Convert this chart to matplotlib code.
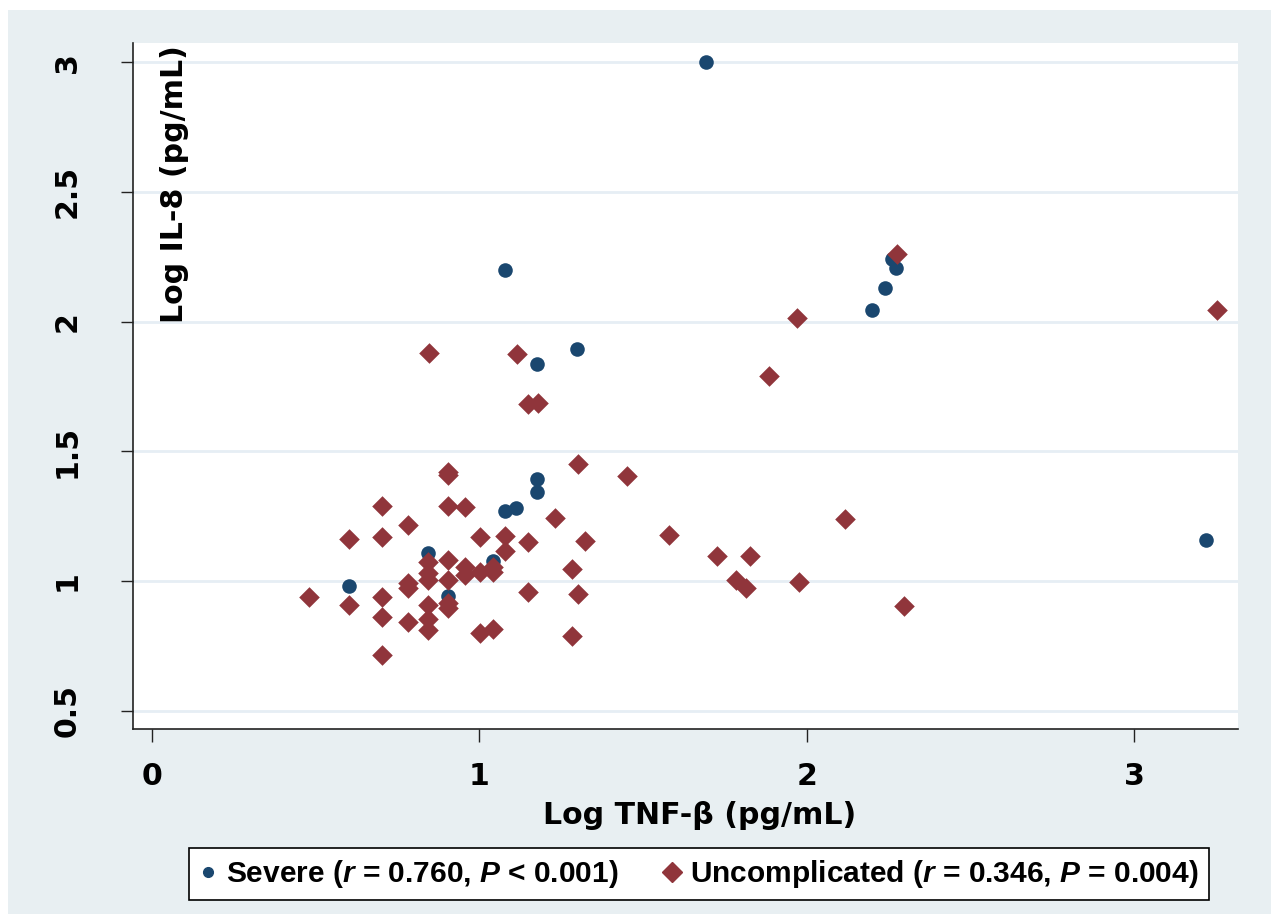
import matplotlib
matplotlib.use('Agg')
import matplotlib.pyplot as plt
from matplotlib.lines import Line2D
from matplotlib.patches import Rectangle

# Log TNF-beta vs Log IL-8
severe_x = [1.693, 1.080, 1.300, 1.177, 2.201, 2.240, 2.261, 2.273, 3.220,
            1.177, 1.177, 1.080, 1.112, 0.844, 1.043, 0.603, 0.905]
severe_y = [3.000, 2.199, 1.893, 1.837, 2.045, 2.129, 2.242, 2.206, 1.158,
            1.392, 1.344, 1.271, 1.280, 1.108, 1.076, 0.981, 0.941]

uncomp_x = [0.481, 0.603, 0.603, 0.702, 0.702, 0.702, 0.702, 0.702, 0.781, 0.781,
            0.781, 0.781, 0.845, 0.844, 0.844, 0.844, 0.844, 0.844, 0.844, 0.905,
            0.905, 0.905, 0.905, 0.905, 0.905, 0.905, 0.956, 0.956, 0.956, 1.002,
            1.002, 1.002, 1.043, 1.043, 1.043, 1.080, 1.080, 1.115, 1.148, 1.178,
            1.148, 1.148, 1.232, 1.282, 1.282, 1.302, 1.303, 1.324, 1.450, 1.581,
            1.725, 1.784, 1.814, 1.827, 1.886, 1.971, 1.977, 2.116, 2.275, 2.298,
            3.254]
uncomp_y = [0.937, 1.162, 0.907, 1.289, 1.171, 0.937, 0.860, 0.715, 1.216, 0.991,
            0.972, 0.843, 1.880, 1.074, 1.030, 1.004, 0.907, 0.852, 0.811, 1.419,
            1.410, 1.289, 1.081, 1.004, 0.914, 0.895, 1.286, 1.055, 1.023, 1.168,
            1.036, 0.798, 1.055, 1.036, 0.814, 1.172, 1.115, 1.875, 1.682, 1.687,
            1.152, 0.959, 1.244, 1.045, 0.789, 1.451, 0.950, 1.155, 1.406, 1.176,
            1.098, 1.004, 0.972, 1.098, 1.790, 2.013, 0.996, 1.240, 2.261, 0.904,
            2.045]

xticks = [0, 1, 2, 3]
yticks = [0.5, 1, 1.5, 2, 2.5, 3]
ytick_labels = ['0.5', '1', '1.5', '2', '2.5', '3']

navy = '#1a476f'
maroon = '#90353b'
panel = '#e8eff2'

plt.rcParams['font.family'] = ['DejaVu Sans']
plt.rcParams['mathtext.fontset'] = 'custom'
plt.rcParams['mathtext.it'] = 'Liberation Sans:italic:bold'
plt.rcParams['mathtext.rm'] = 'Liberation Sans:bold'

fig = plt.figure(figsize=(12.77, 9.22), dpi=100)
fig.patch.set_facecolor('white')
fig.patches.append(Rectangle((8 / 1277, 8 / 922), 1263 / 1277, 904 / 922,
                             transform=fig.transFigure, facecolor=panel,
                             edgecolor='none', zorder=-10))

ax = fig.add_axes([133 / 1277, 193 / 922, 1105 / 1277, 686 / 922])
ax.set_facecolor('white')
ax.set_xlim(-0.058, 3.318)
ax.set_ylim(0.4295, 3.074)

for y in yticks:
    ax.axhline(y, color='#e6eef4', lw=2, zorder=1)

ax.scatter(severe_x, severe_y, s=110, marker='o', color=navy, linewidths=0, zorder=3)
ax.scatter(uncomp_x, uncomp_y, s=110, marker='D', color=maroon, linewidths=0, zorder=4)

for side in ['top', 'right']:
    ax.spines[side].set_visible(False)
for side in ['left', 'bottom']:
    ax.spines[side].set_color('#222222')
    ax.spines[side].set_linewidth(1.2)

ax.set_xticks(xticks)
ax.set_xticklabels([str(t) for t in xticks], fontsize=21.6, fontweight='bold')
ax.set_yticks(yticks)
ax.set_yticklabels(ytick_labels, fontsize=21.6, fontweight='bold', rotation=90, va='center')
ax.tick_params(axis='x', length=9, width=1, pad=15, color='#222222')
ax.tick_params(axis='y', length=9, width=1, pad=28, color='#222222')

ax.text(0.038, 0.997, 'Log IL-8 (pg/mL)', transform=ax.transAxes, rotation=90,
        ha='center', va='top', fontsize=21.6, fontweight='bold')
fig.text(700 / 1277, (922 - 815) / 922, 'Log TNF-β (pg/mL)', ha='center', va='center',
         fontsize=21.6, fontweight='bold')

handles = [
    Line2D([], [], marker='o', color=navy, linestyle='none', markersize=7),
    Line2D([], [], marker='D', color=maroon, linestyle='none', markersize=10),
]
labels = [
    'Severe ($\\mathit{r}$ = 0.760, $\\mathit{P}$ < 0.001)',
    'Uncomplicated ($\\mathit{r}$ = 0.346, $\\mathit{P}$ = 0.004)',
]
leg = fig.legend(handles, labels, loc='center', bbox_to_anchor=(699 / 1277, 48 / 922),
                 ncol=2, frameon=True, fancybox=False, framealpha=1, handlelength=0.6,
                 handletextpad=0.3, columnspacing=1.5, borderpad=0.35,
                 prop={'family': 'Liberation Sans', 'weight': 'bold', 'size': 21.5})
leg.get_frame().set_edgecolor('black')
leg.get_frame().set_linewidth(1.2)
leg.get_frame().set_facecolor('white')

fig.savefig('out.png', dpi=100)
